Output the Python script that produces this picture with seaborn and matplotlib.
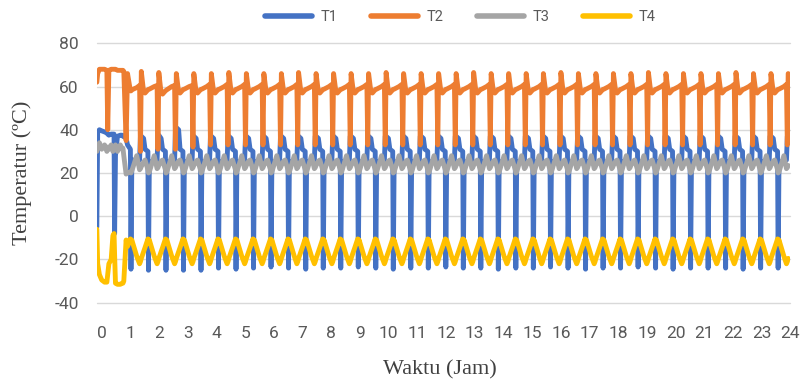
import matplotlib
matplotlib.use("Agg")
import matplotlib.pyplot as plt
from matplotlib.lines import Line2D
import pandas as pd
import seaborn as sns

# ---------------- chart text / categories ----------------
series_names = ["T1", "T2", "T3", "T4"]
series_colors = ["#4472C4", "#ED7D31", "#A5A5A5", "#FFC000"]
x_tick_values = list(range(0, 25))
x_tick_labels = [str(v) for v in x_tick_values]
y_tick_values = [-40, -20, 0, 20, 40, 60, 80]
y_tick_labels = ["-40", "-20", "0", "20", "40", "60", "80"]
x_label = "Waktu (Jam)"
y_label = "Temperatur (ºC)"

# ---------------- data ----------------
# time in hours (shared sample instants for the four probes)
time_h = [
    -0.17, -0.14, -0.08, 0.00, 0.10, 0.18, 0.21, 0.25, 0.33, 0.39, 0.43, 0.45, 0.48, 0.55, 0.65,
    0.71, 0.74, 0.77, 0.85, 0.90, 1.00, 1.02, 1.05, 1.22,
    1.32, 1.35, 1.38, 1.46, 1.51, 1.61, 1.63, 1.66, 1.83,
    1.93, 1.96, 1.99, 2.07, 2.12, 2.22, 2.24, 2.27, 2.44,
    2.54, 2.57, 2.60, 2.68, 2.73, 2.83, 2.85, 2.88, 3.05,
    3.15, 3.18, 3.21, 3.29, 3.34, 3.44, 3.46, 3.49, 3.66,
    3.76, 3.79, 3.82, 3.90, 3.95, 4.05, 4.07, 4.10, 4.27,
    4.37, 4.40, 4.43, 4.51, 4.56, 4.66, 4.68, 4.71, 4.88,
    4.98, 5.01, 5.04, 5.12, 5.17, 5.27, 5.29, 5.32, 5.49,
    5.59, 5.62, 5.65, 5.73, 5.78, 5.88, 5.90, 5.93, 6.10,
    6.20, 6.23, 6.26, 6.34, 6.39, 6.49, 6.51, 6.54, 6.71,
    6.80, 6.83, 6.86, 6.94, 6.99, 7.09, 7.11, 7.14, 7.31,
    7.41, 7.44, 7.47, 7.55, 7.60, 7.70, 7.72, 7.75, 7.92,
    8.02, 8.05, 8.08, 8.16, 8.21, 8.31, 8.33, 8.36, 8.53,
    8.63, 8.66, 8.69, 8.77, 8.82, 8.92, 8.94, 8.97, 9.14,
    9.24, 9.27, 9.30, 9.38, 9.43, 9.53, 9.55, 9.58, 9.75,
    9.85, 9.88, 9.91, 9.99, 10.04, 10.14, 10.16, 10.19, 10.36,
    10.46, 10.49, 10.52, 10.60, 10.65, 10.75, 10.77, 10.80, 10.97,
    11.07, 11.10, 11.13, 11.21, 11.26, 11.36, 11.38, 11.41, 11.58,
    11.68, 11.71, 11.74, 11.82, 11.87, 11.97, 11.99, 12.02, 12.19,
    12.29, 12.32, 12.35, 12.43, 12.48, 12.58, 12.60, 12.63, 12.80,
    12.90, 12.93, 12.96, 13.04, 13.09, 13.19, 13.21, 13.24, 13.41,
    13.51, 13.54, 13.57, 13.65, 13.70, 13.80, 13.82, 13.85, 14.02,
    14.12, 14.15, 14.18, 14.26, 14.31, 14.41, 14.43, 14.46, 14.63,
    14.73, 14.76, 14.79, 14.87, 14.92, 15.02, 15.04, 15.07, 15.24,
    15.33, 15.36, 15.39, 15.47, 15.52, 15.62, 15.64, 15.67, 15.84,
    15.94, 15.97, 16.00, 16.08, 16.13, 16.23, 16.25, 16.28, 16.45,
    16.55, 16.58, 16.61, 16.69, 16.74, 16.84, 16.86, 16.89, 17.06,
    17.16, 17.19, 17.22, 17.30, 17.35, 17.45, 17.47, 17.50, 17.67,
    17.77, 17.80, 17.83, 17.91, 17.96, 18.06, 18.08, 18.11, 18.28,
    18.38, 18.41, 18.44, 18.52, 18.57, 18.67, 18.69, 18.72, 18.89,
    18.99, 19.02, 19.05, 19.13, 19.18, 19.28, 19.30, 19.33, 19.50,
    19.60, 19.63, 19.66, 19.74, 19.79, 19.89, 19.91, 19.94, 20.11,
    20.21, 20.24, 20.27, 20.35, 20.40, 20.50, 20.52, 20.55, 20.72,
    20.82, 20.85, 20.88, 20.96, 21.01, 21.11, 21.13, 21.16, 21.33,
    21.43, 21.46, 21.49, 21.57, 21.62, 21.72, 21.74, 21.77, 21.94,
    22.04, 22.07, 22.10, 22.18, 22.23, 22.33, 22.35, 22.38, 22.55,
    22.65, 22.68, 22.71, 22.79, 22.84, 22.94, 22.96, 22.99, 23.16,
    23.26, 23.29, 23.32, 23.40, 23.45, 23.55, 23.57, 23.60, 23.77,
    23.86, 23.89, 23.92,
]

t1_values = [
    -5, 39, 40, 39.5, 39, 38.5, 38, 37.5, 38, 38, 38, -8, 28, 37, 37.5,
    37.5, 37, 37, 36, 33, 31, -24.5, 26, 26,
    26, 37, 37, 36, 31, 30, -25, 25, 25.5,
    26, 37, 37.5, 36, 31, 30, -25, 25, 25.5,
    26, 40, 41, 40, 31, 30, -25, 25, 25.5,
    26, 37, 37, 36, 31, 30, -25, 25, 25.5,
    26, 37, 37, 36, 31, 30, -24, 25, 25.5,
    26, 37, 37, 36, 31, 30, -24.5, 25, 25.5,
    26, 37, 37, 36, 31, 30, -24, 25, 25.5,
    26, 37, 37, 36, 31, 30, -23.5, 25, 25.5,
    26, 37, 37, 36, 31, 30, -24, 25, 25.5,
    26, 37, 37, 36, 31, 30, -24.5, 25, 25.5,
    26, 37, 37, 36, 31, 30, -24, 25, 25.5,
    26, 37, 37, 36, 31, 30, -24, 25, 25.5,
    26, 37, 37, 36, 31, 30, -23.5, 25, 25.5,
    26, 37, 37, 36, 31, 30, -24, 25, 25.5,
    26, 37, 37, 36, 31, 30, -24.5, 25, 25.5,
    26, 37, 37, 36, 31, 30, -24, 25, 25.5,
    26, 37, 37, 36, 31, 30, -24, 25, 25.5,
    26, 37, 37, 36, 31, 30, -23.5, 25, 25.5,
    26, 37, 37, 36, 31, 30, -24, 25, 25.5,
    26, 37, 37, 36, 31, 30, -24, 25, 25.5,
    26, 37, 37, 36, 31, 30, -24.5, 25, 25.5,
    26, 37, 37, 36, 31, 30, -24, 25, 25.5,
    26, 37, 37, 36, 31, 30, -24, 25, 25.5,
    26, 37, 37, 36, 31, 30, -23.5, 25, 25.5,
    26, 37, 37, 36, 31, 30, -24, 25, 25.5,
    26, 37, 37, 36, 31, 30, -24.5, 25, 25.5,
    26, 37, 37, 36, 31, 30, -24, 25, 25.5,
    26, 37, 37, 36, 31, 30, -24, 25, 25.5,
    26, 37, 37, 36, 31, 30, -23.5, 25, 25.5,
    26, 37, 37, 36, 31, 30, -24, 25, 25.5,
    26, 37, 37, 36, 31, 30, -24.5, 25, 25.5,
    26, 37, 37, 36, 31, 30, -24, 25, 25.5,
    26, 37, 37, 36, 31, 30, -24, 25, 25.5,
    26, 37, 37, 36, 31, 30, -24, 25, 25.5,
    26, 37, 37, 36, 31, 30, -24.5, 25, 25.5,
    26, 37, 37, 36, 31, 30, -24, 25, 25.5,
    26, 37, 37, 36, 31, 30, -24, 25, 25.5,
    26, 37, 37,
]

t2_values = [
    62, 66, 68, 68, 68, 67.5, 40, 67.5, 68, 68, 68, 68, 68, 67.5, 67.5,
    67.5, 67.5, 67, 35, 66, 58, 58, 58.5, 59.5,
    60.5, 30, 67, 57.5, 57, 58.5, 58.7, 58.8, 60,
    60.5, 31, 66.5, 57, 56.5, 58, 58.2, 58.5, 60,
    60.5, 31, 66, 57.5, 57, 58.5, 58.7, 58.8, 60,
    60.5, 32, 66, 57.5, 57, 58.5, 58.7, 58.8, 60,
    61, 33, 66, 57.5, 57, 58.5, 58.7, 58.8, 60,
    61, 33, 66.5, 57.5, 57, 58.5, 58.7, 58.8, 60,
    61, 33, 66, 57.5, 57, 58.5, 58.7, 58.8, 60,
    61, 33, 66, 57.5, 57, 58.5, 58.7, 58.8, 60,
    61, 33, 66, 57.5, 57, 58.5, 58.7, 58.8, 60,
    61, 33, 66.5, 57.5, 57, 58.5, 58.7, 58.8, 60,
    61, 33, 66, 57.5, 57, 58.5, 58.7, 58.8, 60,
    61, 33, 66, 57.5, 57, 58.5, 58.7, 58.8, 60,
    61, 33, 66, 57.5, 57, 58.5, 58.7, 58.8, 60,
    61, 33, 66, 57.5, 57, 58.5, 58.7, 58.8, 60,
    61, 33, 66.5, 57.5, 57, 58.5, 58.7, 58.8, 60,
    61, 33, 66, 57.5, 57, 58.5, 58.7, 58.8, 60,
    61, 33, 66, 57.5, 57, 58.5, 58.7, 58.8, 60,
    61, 33, 66, 57.5, 57, 58.5, 58.7, 58.8, 60,
    61, 33, 66, 57.5, 57, 58.5, 58.7, 58.8, 60,
    61, 33, 66.5, 57.5, 57, 58.5, 58.7, 58.8, 60,
    61, 33, 66, 57.5, 57, 58.5, 58.7, 58.8, 60,
    61, 33, 66, 57.5, 57, 58.5, 58.7, 58.8, 60,
    61, 33, 66, 57.5, 57, 58.5, 58.7, 58.8, 60,
    61, 33, 66, 57.5, 57, 58.5, 58.7, 58.8, 60,
    61, 33, 66.5, 57.5, 57, 58.5, 58.7, 58.8, 60,
    61, 33, 66, 57.5, 57, 58.5, 58.7, 58.8, 60,
    61, 33, 66, 57.5, 57, 58.5, 58.7, 58.8, 60,
    61, 33, 66, 57.5, 57, 58.5, 58.7, 58.8, 60,
    61, 33, 66, 57.5, 57, 58.5, 58.7, 58.8, 60,
    61, 33, 66.5, 57.5, 57, 58.5, 58.7, 58.8, 60,
    61, 33, 66, 57.5, 57, 58.5, 58.7, 58.8, 60,
    61, 33, 66, 57.5, 57, 58.5, 58.7, 58.8, 60,
    61, 33, 66, 57.5, 57, 58.5, 58.7, 58.8, 60,
    61, 33, 66, 57.5, 57, 58.5, 58.7, 58.8, 60,
    61, 33, 66.5, 57.5, 57, 58.5, 58.7, 58.8, 60,
    61, 33, 66, 57.5, 57, 58.5, 58.7, 58.8, 60,
    61, 33, 66, 57.5, 57, 58.5, 58.7, 58.8, 60,
    61, 33, 66,
]

t3_values = [
    30, 32, 34, 31, 33, 30, 32, 31, 33, 30, 32, 31, 33, 30, 33,
    31, 31.5, 28, 19.5, 20, 20.5, 20, 21, 28,
    21.5, 22, 23, 25, 26, 21.5, 20, 20.5, 28,
    22, 22.5, 23.5, 25.5, 26, 21.5, 20, 20.5, 28,
    22, 22.5, 23.5, 25.5, 26, 21.5, 20, 20.5, 28,
    22, 22.5, 23.5, 25.5, 26, 21.5, 20, 20.5, 28,
    22, 22.5, 23.5, 25.5, 26, 21.5, 20, 20.5, 28,
    22, 22.5, 23.5, 25.5, 26, 21.5, 20, 20.5, 28,
    22, 22.5, 23.5, 25.5, 26, 21.5, 20, 20.5, 28,
    22, 22.5, 23.5, 25.5, 26, 21.5, 20, 20.5, 28,
    22, 22.5, 23.5, 25.5, 26, 21.5, 20, 20.5, 28,
    22, 22.5, 23.5, 25.5, 26, 21.5, 20, 20.5, 28,
    22, 22.5, 23.5, 25.5, 26, 21.5, 20, 20.5, 28,
    22, 22.5, 23.5, 25.5, 26, 21.5, 20, 20.5, 28,
    22, 22.5, 23.5, 25.5, 26, 21.5, 20, 20.5, 28,
    22, 22.5, 23.5, 25.5, 26, 21.5, 20, 20.5, 28,
    22, 22.5, 23.5, 25.5, 26, 21.5, 20, 20.5, 28,
    22, 22.5, 23.5, 25.5, 26, 21.5, 20, 20.5, 28,
    22, 22.5, 23.5, 25.5, 26, 21.5, 20, 20.5, 28,
    22, 22.5, 23.5, 25.5, 26, 21.5, 20, 20.5, 28,
    22, 22.5, 23.5, 25.5, 26, 21.5, 20, 20.5, 28,
    22, 22.5, 23.5, 25.5, 26, 21.5, 20, 20.5, 28,
    22, 22.5, 23.5, 25.5, 26, 21.5, 20, 20.5, 28,
    22, 22.5, 23.5, 25.5, 26, 21.5, 20, 20.5, 28,
    22, 22.5, 23.5, 25.5, 26, 21.5, 20, 20.5, 28,
    22, 22.5, 23.5, 25.5, 26, 21.5, 20, 20.5, 28,
    22, 22.5, 23.5, 25.5, 26, 21.5, 20, 20.5, 28,
    22, 22.5, 23.5, 25.5, 26, 21.5, 20, 20.5, 28,
    22, 22.5, 23.5, 25.5, 26, 21.5, 20, 20.5, 28,
    22, 22.5, 23.5, 25.5, 26, 21.5, 20, 20.5, 28,
    22, 22.5, 23.5, 25.5, 26, 21.5, 20, 20.5, 28,
    22, 22.5, 23.5, 25.5, 26, 21.5, 20, 20.5, 28,
    22, 22.5, 23.5, 25.5, 26, 21.5, 20, 20.5, 28,
    22, 22.5, 23.5, 25.5, 26, 21.5, 20, 20.5, 28,
    22, 22.5, 23.5, 25.5, 26, 21.5, 20, 20.5, 28,
    22, 22.5, 23.5, 25.5, 26, 21.5, 20, 20.5, 28,
    22, 22.5, 23.5, 25.5, 26, 21.5, 20, 20.5, 28,
    22, 22.5, 23.5, 25.5, 26, 21.5, 20, 20.5, 28,
    22, 22.5, 23.5, 25.5, 26, 21.5, 20, 20.5, 28,
    22, 22.5, 23.5,
]

t4_values = [
    -6, -22, -27, -29.5, -30.5, -30.5, -27, -22, -20, -9, -8, -18, -31, -31.5, -31.5,
    -31, -31, -30, -11, -14, -10.5, -12, -11, -18.5,
    -22, -21, -19.5, -16.5, -14.5, -10.5, -12.5, -11, -18.5,
    -22, -21, -19.5, -16.5, -14.5, -10.5, -12.5, -11, -18.5,
    -22, -21, -19.5, -16.5, -14.5, -10.5, -12.5, -11, -18.5,
    -22, -21, -19.5, -16.5, -14.5, -10.5, -12.5, -11, -18.5,
    -22, -21, -19.5, -16.5, -14.5, -10.5, -12.5, -11, -18.5,
    -22, -21, -19.5, -16.5, -14.5, -10.5, -12.5, -11, -18.5,
    -22, -21, -19.5, -16.5, -14.5, -10.5, -12.5, -11, -18.5,
    -22, -21, -19.5, -16.5, -14.5, -10.5, -12.5, -11, -18.5,
    -22, -21, -19.5, -16.5, -14.5, -10.5, -12.5, -11, -18.5,
    -22, -21, -19.5, -16.5, -14.5, -10.5, -12.5, -11, -18.5,
    -22, -21, -19.5, -16.5, -14.5, -10.5, -12.5, -11, -18.5,
    -22, -21, -19.5, -16.5, -14.5, -10.5, -12.5, -11, -18.5,
    -22, -21, -19.5, -16.5, -14.5, -10.5, -12.5, -11, -18.5,
    -22, -21, -19.5, -16.5, -14.5, -10.5, -12.5, -11, -18.5,
    -22, -21, -19.5, -16.5, -14.5, -10.5, -12.5, -11, -18.5,
    -22, -21, -19.5, -16.5, -14.5, -10.5, -12.5, -11, -18.5,
    -22, -21, -19.5, -16.5, -14.5, -10.5, -12.5, -11, -18.5,
    -22, -21, -19.5, -16.5, -14.5, -10.5, -12.5, -11, -18.5,
    -22, -21, -19.5, -16.5, -14.5, -10.5, -12.5, -11, -18.5,
    -22, -21, -19.5, -16.5, -14.5, -10.5, -12.5, -11, -18.5,
    -22, -21, -19.5, -16.5, -14.5, -10.5, -12.5, -11, -18.5,
    -22, -21, -19.5, -16.5, -14.5, -10.5, -12.5, -11, -18.5,
    -22, -21, -19.5, -16.5, -14.5, -10.5, -12.5, -11, -18.5,
    -22, -21, -19.5, -16.5, -14.5, -10.5, -12.5, -11, -18.5,
    -22, -21, -19.5, -16.5, -14.5, -10.5, -12.5, -11, -18.5,
    -22, -21, -19.5, -16.5, -14.5, -10.5, -12.5, -11, -18.5,
    -22, -21, -19.5, -16.5, -14.5, -10.5, -12.5, -11, -18.5,
    -22, -21, -19.5, -16.5, -14.5, -10.5, -12.5, -11, -18.5,
    -22, -21, -19.5, -16.5, -14.5, -10.5, -12.5, -11, -18.5,
    -22, -21, -19.5, -16.5, -14.5, -10.5, -12.5, -11, -18.5,
    -22, -21, -19.5, -16.5, -14.5, -10.5, -12.5, -11, -18.5,
    -22, -21, -19.5, -16.5, -14.5, -10.5, -12.5, -11, -18.5,
    -22, -21, -19.5, -16.5, -14.5, -10.5, -12.5, -11, -18.5,
    -22, -21, -19.5, -16.5, -14.5, -10.5, -12.5, -11, -18.5,
    -22, -21, -19.5, -16.5, -14.5, -10.5, -12.5, -11, -18.5,
    -22, -21, -19.5, -16.5, -14.5, -10.5, -12.5, -11, -18.5,
    -22, -21, -19.5, -16.5, -14.5, -10.5, -12.5, -11, -18.5,
    -22, -21, -19.5,
]

assert len(time_h) == len(t1_values) == len(t2_values) == len(t3_values) == len(t4_values)

# ---------------- build long table ----------------
wide = pd.DataFrame({"Waktu": time_h, "T1": t1_values, "T2": t2_values,
                     "T3": t3_values, "T4": t4_values})
df = wide.melt(id_vars="Waktu", var_name="Seri", value_name="Temperatur")

# ---------------- styling ----------------
sns.set_theme(style="white")
plt.rcParams["font.family"] = ["Roboto", "DejaVu Sans"]
plt.rcParams["axes.unicode_minus"] = False

fig = plt.figure(figsize=(8.12, 3.83), dpi=100)
ax = fig.add_axes([0.1191, 0.2097, 0.8544, 0.6772])

sns.lineplot(data=df, x="Waktu", y="Temperatur", hue="Seri",
             hue_order=series_names, palette=series_colors,
             estimator=None, sort=False, linewidth=3.5, legend=False, ax=ax,
             solid_joinstyle="round", solid_capstyle="round")

ax.set_xlim(-0.174, 24.0)
ax.set_ylim(-40, 80)
ax.set_xticks(x_tick_values)
ax.set_xticklabels(x_tick_labels)
ax.set_yticks(y_tick_values)
ax.set_yticklabels(y_tick_labels)
ax.tick_params(axis="both", length=0, labelsize=12.5, labelcolor="#595959")
ax.tick_params(axis="x", pad=17)
ax.tick_params(axis="y", pad=13)

ax.yaxis.grid(True, color="#D9D9D9", linewidth=1.0)
ax.xaxis.grid(False)
ax.set_axisbelow(True)
for gl in ax.get_ygridlines():
    gl.set_clip_on(False)
for side in ["left", "right", "top", "bottom"]:
    ax.spines[side].set_visible(False)

ax.set_xlabel(x_label, fontfamily=["Liberation Serif", "DejaVu Serif"],
              fontsize=16, color="#404040")
ax.xaxis.set_label_coords(0.495, -0.221)
ax.set_ylabel(y_label, fontfamily=["Liberation Serif", "DejaVu Serif"],
              fontsize=16, color="#404040")
ax.yaxis.set_label_coords(-0.093, 0.5)

handles = [Line2D([], [], color=c, linewidth=4) for c in series_colors]
fig.legend(handles, series_names, loc="center", bbox_to_anchor=(0.567, 0.955),
           ncol=4, frameon=False, fontsize=10.5, handlelength=3.2,
           handletextpad=0.6, columnspacing=2.3, labelcolor="#595959")

fig.savefig("out.png", dpi=100)
